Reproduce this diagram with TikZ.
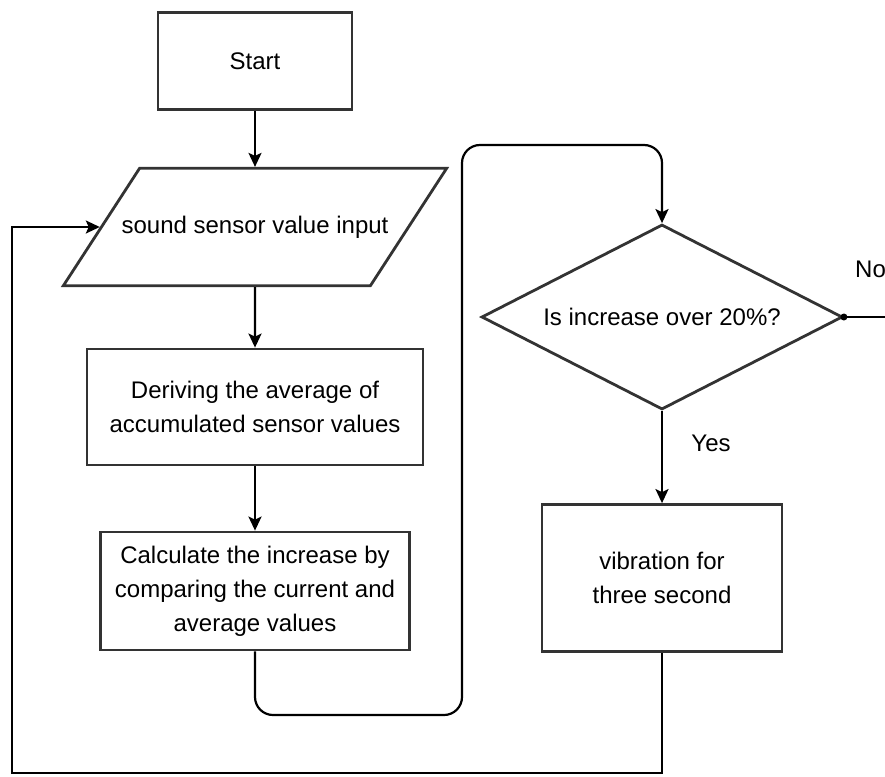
\documentclass[tikz,border=0pt]{standalone}
\usepackage{fontspec}
\setmainfont{Liberation Sans}
\usepackage{tikz}
\usetikzlibrary{arrows.meta,shapes.geometric}

\begin{document}
\begin{tikzpicture}[x=1pt, y=-1pt,
		font=\fontsize{24}{34}\selectfont,
		box/.style={draw=black!80, line width=2.8pt, align=center, inner sep=0pt},
		inbox/.style={trapezium, trapezium left angle=57, trapezium right angle=123, draw=black!80, line width=2.8pt, inner xsep=-18pt, inner ysep=47.5pt},
		decision/.style={diamond, aspect=2, draw=black!80, line width=2.8pt, inner sep=2pt},
		flow/.style={line width=2.2pt, -{Stealth[length=14pt,width=13pt,inset=3pt]}},
		plain/.style={line width=2.2pt}]
		%%%%% START %%%%%
		
		\useasboundingbox (0,0) rectangle (885,776);
		\clip (0,0) rectangle (885,776);
		
		\node[box, minimum width=194, minimum height=97] (start) at (255,61) {Start};
		\node[inbox] (input) at (255,227) {sound sensor value input};
		\node[box, minimum width=336, minimum height=116] (avg) at (255,407) {Deriving the average of\\accumulated sensor values};
		\node[box, minimum width=309, minimum height=118] (calc) at (255,591) {Calculate the increase by\\comparing the current and\\average values};
		
		\node[decision, minimum width=361, minimum height=185] (check) at (662,317) {Is increase over 20\%?};
		\node[box, minimum width=240, minimum height=147] (vib) at (662,578) {vibration for\\three second};
		
		\node (yes) at (711,443) {Yes};
		\node[anchor=west, inner sep=0pt] (no) at (855,269) {No};
		
		\coordinate (lowturn) at (462,715);
		\coordinate (topturn) at (462,145);
		\coordinate (noend) at (892,317);
		\coordinate (back) at (12,773);
		
		\draw[flow] (start) -- (input);
		\draw[flow] (input) -- (avg);
		\draw[flow] (avg) -- (calc);
		\draw[flow, rounded corners=18] (calc.south) -- (calc.south |- lowturn) -- (lowturn) -- (topturn) -- (topturn -| check.north) -- (check.north);
		\draw[flow] (check) -- (vib);
		\draw[plain] (check.east) -- (noend);
		\fill (check.east) circle (3.5);
		\draw[flow] (vib.south) |- (back) |- (input.west);
		
		%%%%% END %%%%%
	\end{tikzpicture}
\end{document}
